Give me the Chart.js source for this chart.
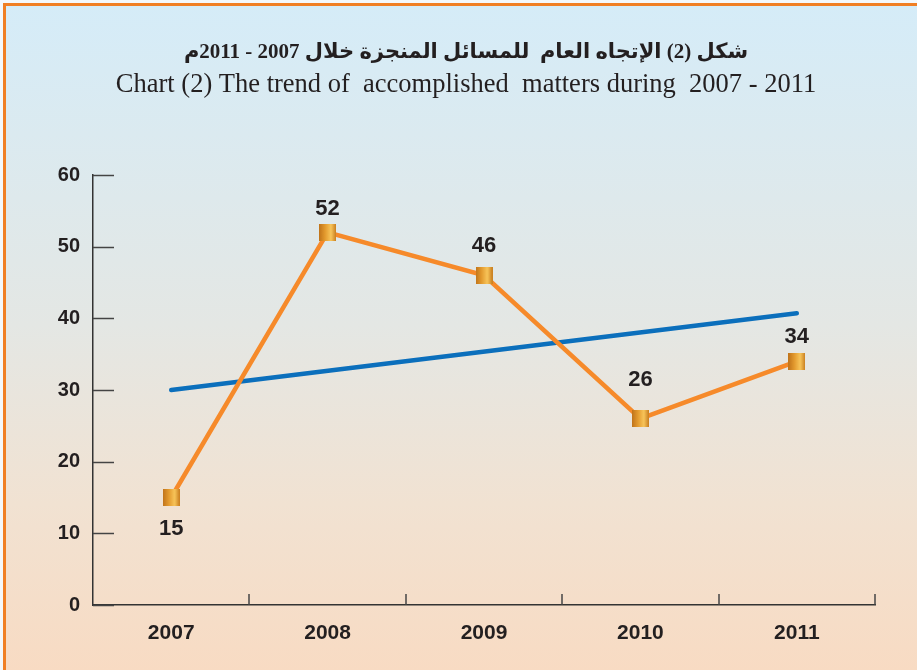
<!DOCTYPE html>
<html>
<head>
<meta charset="utf-8">
<script src="https://cdn.jsdelivr.net/npm/chart.js@4/dist/chart.umd.min.js"></script>
<style>
  html, body { margin: 0; padding: 0; background: #f4f8fb; }
  #frame {
    position: absolute; left: 3px; top: 3px; right: 0; bottom: 0;
    border-top: 3px solid #f07f24; border-left: 3px solid #f07f24;
    background: linear-gradient(#d5ecf8 0%, #e4e7e4 48%, #f1e2d2 75%, #f8dbc3 100%);
  }
  #wrap { position: absolute; left: 0; top: 0; width: 917px; height: 670px; }
</style>
</head>
<body>
<div id="frame"></div>
<div id="wrap"><canvas id="lineChart"></canvas></div>
<script>
var years = ['2007', '2008', '2009', '2010', '2011'];
var accomplished = [15, 52, 46, 26, 34];
var trend = [30, null, null, null, 40.7];
var yTicks = [0, 10, 20, 30, 40, 50, 60];

var titleAr = '\u202Bشكل (2) الإتجاه العام  للمسائل المنجزة خلال 2007 - 2011م\u202C';
var titleEn = 'Chart (2) The trend of  accomplished  matters during  2007 - 2011';

// gold square marker
var marker = document.createElement('canvas');
marker.width = 17; marker.height = 17;
(function() {
    var c = marker.getContext('2d');
    var g = c.createLinearGradient(0, 0, 17, 0);
    g.addColorStop(0, '#c0731a');
    g.addColorStop(0.35, '#e39a2e');
    g.addColorStop(0.7, '#f8c55a');
    g.addColorStop(1, '#c87d1e');
    c.fillStyle = g;
    c.fillRect(0, 0, 17, 17);
})();

// inner tick marks + value labels
var decor = {
    id: 'decor',
    beforeDatasetsDraw: function(chart) {
        var ctx = chart.ctx, area = chart.chartArea;
        var x = chart.scales.x, y = chart.scales.y;
        ctx.save();
        ctx.strokeStyle = '#444';
        ctx.lineWidth = 1.5;
        yTicks.forEach(function(v) {
            var py = Math.round(y.getPixelForValue(v)) + 0.5;
            ctx.beginPath();
            ctx.moveTo(area.left, py);
            ctx.lineTo(area.left + 21, py);
            ctx.stroke();
        });
        var step = x.getPixelForValue(1) - x.getPixelForValue(0);
        years.forEach(function(yr, i) {
            var px = Math.round(x.getPixelForValue(i) + step / 2);
            ctx.beginPath();
            ctx.moveTo(px, area.bottom);
            ctx.lineTo(px, area.bottom - 11);
            ctx.stroke();
        });
        ctx.restore();
    },
    afterDatasetsDraw: function(chart, args, opts) {
        var ctx = chart.ctx;
        var meta = chart.getDatasetMeta(0);
        ctx.save();
        ctx.font = 'bold 22px "Liberation Sans", Arial, sans-serif';
        ctx.fillStyle = '#231f20';
        ctx.textAlign = 'center';
        ctx.textBaseline = 'middle';
        meta.data.forEach(function(pt, i) {
            ctx.fillText(String(accomplished[i]), pt.x, pt.y + opts.offsets[i]);
        });
        ctx.restore();
    }
};

var canvas = document.getElementById('lineChart');
new Chart(canvas.getContext('2d'), {
    type: 'line',
    data: {
        labels: years,
        datasets: [{
            data: accomplished,
            borderColor: '#f68a2a',
            borderWidth: 4.5,
            pointStyle: marker,
            tension: 0
        }, {
            data: trend,
            borderColor: '#0b6fbc',
            borderWidth: 4.5,
            borderCapStyle: 'round',
            pointRadius: 0,
            spanGaps: true
        }]
    },
    options: {
        responsive: true,
        maintainAspectRatio: false,
        animation: false,
        layout: { padding: { top: 30, right: 42, bottom: 0, left: 57 } },
        plugins: {
            legend: { display: false },
            tooltip: { enabled: false },
            title: {
                display: true,
                text: titleAr,
                color: '#231f20',
                font: { family: '"Liberation Serif", "DejaVu Sans", serif', size: 21, weight: 'bold' },
                padding: { top: 10, bottom: 1 }
            },
            subtitle: {
                display: true,
                text: titleEn,
                color: '#231f20',
                font: { family: '"Liberation Serif", serif', size: 26.5, weight: 'normal' },
                padding: { top: 3, bottom: 74 }
            },
            decor: { offsets: [31, -23, -29, -39, -24] }
        },
        scales: {
            x: {
                offset: true,
                grid: { display: false },
                border: { display: true, color: '#333', width: 1.5 },
                ticks: {
                    color: '#231f20',
                    padding: 8,
                    font: { family: '"Liberation Sans", Arial, sans-serif', size: 21, weight: 'bold' }
                },
                afterFit: function(s) { s.height = 65; }
            },
            y: {
                min: 0,
                max: 60,
                grid: { display: false },
                border: { display: true, color: '#333', width: 1.5 },
                ticks: {
                    stepSize: 10,
                    color: '#231f20',
                    padding: 5,
                    font: { family: '"Liberation Sans", Arial, sans-serif', size: 20, weight: 'bold' }
                },
                afterFit: function(s) { s.width = 36; }
            }
        }
    },
    plugins: [decor]
});
</script>
</body>
</html>
